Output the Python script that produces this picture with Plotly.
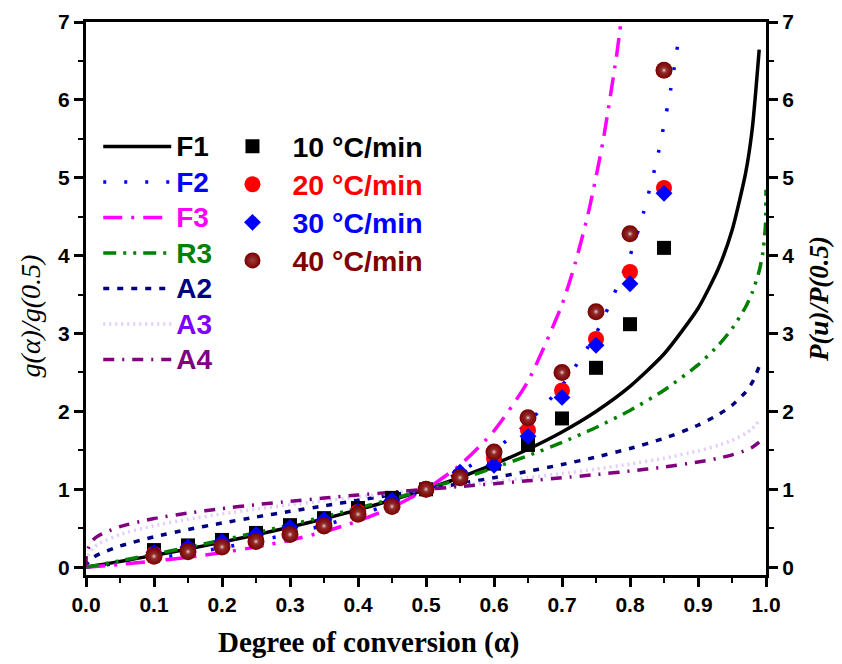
import plotly.graph_objects as go

# ---------------- data ----------------
# model curves g(alpha)/g(0.5)
alpha_m = [0, 0.001, 0.01, 0.02, 0.05, 0.1, 0.15, 0.2, 0.25, 0.3, 0.35, 0.4, 0.45, 0.5,
           0.55, 0.6, 0.65, 0.7, 0.75, 0.8, 0.85, 0.9, 0.93, 0.95, 0.97, 0.98, 0.99]
F1 = [0, 0.00144, 0.0145, 0.0291, 0.0740, 0.152, 0.234, 0.322, 0.415, 0.515, 0.621, 0.737, 0.862, 1.0,
      1.152, 1.322, 1.515, 1.737, 2.0, 2.322, 2.737, 3.322, 3.836, 4.322, 5.059, 5.644, 6.644]
A2 = [0, 0.0379, 0.1204, 0.1706, 0.2720, 0.3899, 0.4837, 0.5674, 0.6442, 0.7173, 0.7883, 0.8585, 0.9287, 1.0,
      1.0733, 1.1498, 1.2308, 1.3179, 1.4142, 1.5238, 1.6544, 1.8226, 1.9586, 2.0789, 2.2492, 2.3757, 2.5776]
A3 = [0, 0.1130, 0.2438, 0.3076, 0.4198, 0.5337, 0.6162, 0.6853, 0.7458, 0.8013, 0.8531, 0.9034, 0.9517, 1.0,
      1.0483, 1.0975, 1.1485, 1.2020, 1.2599, 1.3242, 1.3987, 1.4925, 1.5655, 1.6285, 1.7166, 1.7806, 1.8800]
A4 = [0, 0.1947, 0.3470, 0.4130, 0.5215, 0.6244, 0.6955, 0.7533, 0.8026, 0.8469, 0.8879, 0.9266, 0.9637, 1.0,
      1.0360, 1.0723, 1.1094, 1.1480, 1.1892, 1.2344, 1.2862, 1.3500, 1.3995, 1.4418, 1.4997, 1.5413, 1.6055]

alpha_f2 = [0, 0.01, 0.02, 0.05, 0.1, 0.15, 0.2, 0.25, 0.3, 0.35, 0.4, 0.45, 0.5,
            0.55, 0.6, 0.65, 0.7, 0.75, 0.8, 0.82, 0.84, 0.86, 0.872]
F2 = [0, 0.0101, 0.0204, 0.0526, 0.1111, 0.1765, 0.25, 0.3333, 0.4286, 0.5385, 0.6667, 0.8182, 1.0,
      1.2222, 1.5, 1.8571, 2.3333, 3.0, 4.0, 4.5556, 5.25, 6.1429, 6.8125]

alpha_f3 = [0, 0.05, 0.1, 0.15, 0.2, 0.25, 0.3, 0.35, 0.4, 0.45, 0.5,
            0.55, 0.6, 0.65, 0.7, 0.72, 0.74, 0.76, 0.78, 0.79]
F3 = [0, 0.0360, 0.0782, 0.1280, 0.1875, 0.2593, 0.3469, 0.4556, 0.5926, 0.7686, 1.0,
      1.3128, 1.75, 2.3878, 3.3704, 3.9184, 4.5976, 5.4537, 6.5537, 7.2252]

alpha_r3 = [0, 0.01, 0.05, 0.1, 0.15, 0.2, 0.25, 0.3, 0.35, 0.4, 0.45, 0.5,
            0.55, 0.6, 0.65, 0.7, 0.75, 0.8, 0.85, 0.9, 0.93, 0.95, 0.97, 0.98, 0.99, 0.995, 0.999, 1.0]
R3 = [0, 0.0162, 0.0822, 0.1673, 0.2556, 0.3475, 0.4432, 0.5434, 0.6484, 0.7589, 0.8758, 1.0,
      1.1328, 1.2758, 1.4313, 1.6024, 1.7937, 2.0126, 2.2718, 2.5974, 2.8496, 3.0616, 3.3412, 3.5316,
      3.8030, 4.0185, 4.3626, 4.8473]

# experimental points
alpha_exp = [0.1, 0.15, 0.2, 0.25, 0.3, 0.35, 0.4, 0.45, 0.5, 0.55, 0.6, 0.65, 0.7, 0.75, 0.8, 0.85]
r10 = [0.22, 0.28, 0.35, 0.44, 0.54, 0.63, 0.76, 0.89, 1.0, 1.16, 1.33, 1.57, 1.91, 2.56, 3.12, 4.10]
r20 = [0.17, 0.23, 0.29, 0.36, 0.46, 0.57, 0.71, 0.82, 1.0, 1.18, 1.40, 1.76, 2.27, 2.93, 3.79, 4.87]
r30 = [0.19, 0.26, 0.33, 0.42, 0.51, 0.61, 0.72, 0.86, 1.0, 1.22, 1.31, 1.68, 2.18, 2.85, 3.64, 4.80]
r40 = [0.14, 0.20, 0.26, 0.33, 0.42, 0.53, 0.68, 0.78, 1.0, 1.15, 1.48, 1.92, 2.50, 3.28, 4.28, 6.38]

x_ticks = [0.0, 0.1, 0.2, 0.3, 0.4, 0.5, 0.6, 0.7, 0.8, 0.9, 1.0]
y_ticks = [0, 1, 2, 3, 4, 5, 6, 7]

# ---------------- figure ----------------
fig = go.Figure()

def lbl(text, color, size):
    return f"<span style='color:{color};font-size:{size}px'>{text}</span>"

lines = [
    ("F1", alpha_m, F1, "#000000", "solid", 3.5, "#000000"),
    ("F2", alpha_f2, F2, "#0000FF", "3px,18px", 3.5, "#0000FF"),
    ("F3", alpha_f3, F3, "#FF00FF", "19px,9px,3px,9px", 3.5, "#FF00FF"),
    ("R3", alpha_r3, R3, "#008000", "13px,7px,3px,7px,3px,7px", 3.5, "#008000"),
    ("A2", alpha_m, A2, "#000080", "6px,8px", 3.5, "#000080"),
    ("A3", alpha_m, A3, "#E2CCFA", "2px,4px", 3.5, "#8000FF"),
    ("A4", alpha_m, A4, "#800080", "11px,8px,2px,8px", 3.5, "#800080"),
]
for name, xs, ys, col, dash, w, tcol in lines:
    fig.add_trace(go.Scatter(x=xs, y=ys, mode="lines", name=lbl(name, tcol, 28),
                             line=dict(color=col, dash=dash, width=w, shape="spline", smoothing=0.6),
                             legend="legend"))

fig.add_trace(go.Scatter(x=alpha_exp, y=r10, mode="markers", name=lbl("10 °C/min", "#000000", 28.5),
                         marker=dict(symbol="square", size=14, color="#000000"), legend="legend2"))
fig.add_trace(go.Scatter(x=alpha_exp, y=r20, mode="markers", name=lbl("20 °C/min", "#FF0000", 28.5),
                         marker=dict(symbol="circle", size=16, color="#FF0000"), legend="legend2"))
fig.add_trace(go.Scatter(x=alpha_exp, y=r30, mode="markers", name=lbl("30 °C/min", "#0000FF", 28.5),
                         marker=dict(symbol="diamond", size=13, color="#0000FF"), legend="legend2"))
fig.add_trace(go.Scatter(x=alpha_exp, y=r40, mode="markers", name=lbl("40 °C/min", "#800000", 28.5),
                         marker=dict(symbol="circle", size=17, color="#760000",
                                     gradient=dict(type="radial", color="#A03C3C")),
                         legend="legend2"))
fig.add_trace(go.Scatter(x=alpha_exp, y=r40, mode="markers", showlegend=False, hoverinfo="skip",
                         marker=dict(symbol="circle", size=8, color="rgba(118,0,0,0)",
                                     gradient=dict(type="radial", color="#F4E0E0"))))

tickfont = dict(family="Liberation Sans, Arial", size=21, color="black", weight="bold")
minor_y = dict(dtick=0.5, ticks="outside", ticklen=5, tickwidth=2, tickcolor="black")
serif = "Liberation Serif, Times New Roman"

fig.update_layout(
    width=842, height=664,
    margin=dict(l=86, r=76, t=22, b=89),
    paper_bgcolor="white", plot_bgcolor="white",
    showlegend=True,
    xaxis=dict(range=[0, 1], tickvals=x_ticks, ticktext=[f"{v:.1f}" for v in x_ticks],
               ticks="outside", ticklen=9, tickwidth=2.5, tickcolor="black",
               minor=dict(dtick=0.05, ticks="outside", ticklen=5, tickwidth=2, tickcolor="black"),
               showline=True, linewidth=3, linecolor="black", mirror=True,
               showgrid=False, zeroline=False, tickfont=tickfont, automargin=False),
    yaxis=dict(range=[-0.1, 7], tickvals=y_ticks, ticks="outside", ticklen=9, tickwidth=2.5,
               tickcolor="black", minor=minor_y,
               showline=True, linewidth=3, linecolor="black",
               showgrid=False, zeroline=False, tickfont=tickfont, automargin=False),
    yaxis2=dict(range=[-0.1, 7], tickvals=y_ticks, overlaying="y", side="right", anchor="x",
                ticks="outside", ticklen=9, tickwidth=2.5, tickcolor="black", minor=minor_y,
                showline=True, linewidth=3, linecolor="black",
                showgrid=False, zeroline=False, tickfont=tickfont, automargin=False,
                title=dict(text="<b><i>P(u)/P(0.5)</i></b>",
                           font=dict(family=serif, size=27, color="black"),
                           standoff=16)),
    legend=dict(x=0.018, y=0.816, xanchor="left", yanchor="top", bgcolor="rgba(0,0,0,0)",
                font=dict(family="Liberation Sans, Arial", size=25, color="black", weight="bold"),
                itemwidth=68, tracegroupgap=0),
    legend2=dict(x=0.186, y=0.819, xanchor="left", yanchor="top", bgcolor="rgba(0,0,0,0)",
                 font=dict(family="Liberation Sans, Arial", size=27, color="black", weight="bold"),
                 itemwidth=70, tracegroupgap=0),
    annotations=[
        dict(text="<b>Degree of conversion (α)</b>", xref="paper", yref="paper",
             x=0.416, y=-0.122, xanchor="center", yanchor="middle", showarrow=False,
             font=dict(family=serif, size=29, color="black")),
        dict(text="<i>g(α)/g(0.5)</i>", xref="paper", yref="paper",
             x=-0.082, y=0.468, xanchor="center", yanchor="middle", showarrow=False, textangle=-90,
             font=dict(family=serif, size=28, color="black")),
    ],
)
# attach an invisible helper so the right axis is rendered
fig.add_trace(go.Scatter(x=[], y=[], yaxis="y2", showlegend=False, hoverinfo="skip"))

fig.write_html("out.html")
